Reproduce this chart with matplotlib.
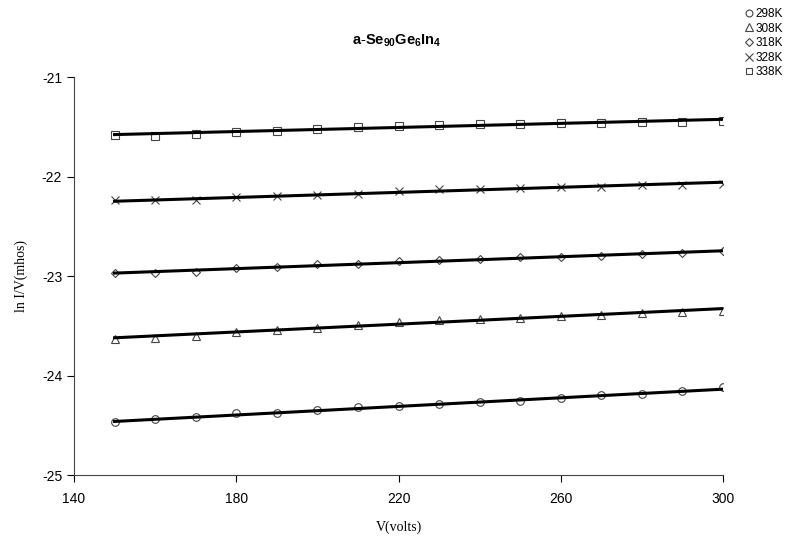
import matplotlib
matplotlib.use("Agg")
import matplotlib.pyplot as plt
import numpy as np

plt.rcParams['font.family'] = ['Liberation Sans', 'DejaVu Sans']
plt.rcParams['axes.unicode_minus'] = False
plt.rcParams['mathtext.fontset'] = 'custom'
plt.rcParams['mathtext.rm'] = 'Liberation Sans'
plt.rcParams['mathtext.bf'] = 'Liberation Sans:bold'

# bias voltage (V)
volts = [150, 160, 170, 180, 190, 200, 210, 220, 230, 240, 250, 260, 270, 280, 290, 300]

# ln I/V at each temperature
ln_298 = [-24.47, -24.44, -24.42, -24.38, -24.38, -24.35, -24.32, -24.31,
          -24.29, -24.27, -24.26, -24.23, -24.20, -24.19, -24.16, -24.12]
ln_308 = [-23.63, -23.62, -23.60, -23.56, -23.54, -23.52, -23.49, -23.46,
          -23.44, -23.43, -23.42, -23.40, -23.39, -23.37, -23.36, -23.35]
ln_318 = [-22.97, -22.97, -22.96, -22.92, -22.91, -22.88, -22.88, -22.85,
          -22.84, -22.83, -22.81, -22.81, -22.80, -22.78, -22.77, -22.75]
ln_328 = [-22.24, -22.24, -22.24, -22.21, -22.20, -22.19, -22.18, -22.15,
          -22.13, -22.12, -22.11, -22.10, -22.10, -22.08, -22.08, -22.07]
ln_338 = [-21.58, -21.59, -21.57, -21.55, -21.54, -21.52, -21.50, -21.49,
          -21.48, -21.47, -21.47, -21.46, -21.46, -21.45, -21.45, -21.44]

labels = ['298K', '308K', '318K', '328K', '338K']
series = [ln_298, ln_308, ln_318, ln_328, ln_338]
markers = ['o', '^', 'D', 'x', 's']
msizes = [5.5, 6, 4.2, 6, 5.5]

fig = plt.figure(figsize=(7.94, 5.39), dpi=100)
ax = fig.add_axes([0.0932, 0.1187, 0.8174, 0.7383])

v = np.array(volts)
handles = []
for lab, y, m, ms in zip(labels, series, markers, msizes):
    y = np.array(y)
    # linear trend line through each data set
    k, b = np.polyfit(v, y, 1)
    ax.plot(v, k * v + b, color='black', lw=2.2, zorder=3)
    if m == 'x':
        h, = ax.plot(v, y, ls='none', marker=m, ms=ms, color='#444444',
                     mew=0.8, zorder=2, label=lab)
    else:
        h, = ax.plot(v, y, ls='none', marker=m, ms=ms, mfc='none',
                     mec='#444444', mew=0.8, zorder=2, label=lab)
    handles.append(h)

ax.set_xlim(140, 300)
ax.set_ylim(-25, -21)
ax.set_xticks([140, 180, 220, 260, 300])
ax.set_yticks([-25, -24, -23, -22, -21])
ax.spines['top'].set_visible(False)
ax.spines['right'].set_visible(False)
ax.spines['left'].set_color('#444444')
ax.spines['bottom'].set_color('#444444')
ax.tick_params(direction='out', length=5, labelsize=10, colors='black')
ax.tick_params(axis='x', pad=7)

ax.set_xlabel('V(volts)', family='Liberation Serif', fontsize=10, labelpad=11)
ax.set_ylabel('ln I/V(mhos)', family='Liberation Serif', fontsize=10, labelpad=10)

fig.text(0.5, 0.925, r'$\mathbf{a\text{-}Se_{90}Ge_6In_4}$', ha='center',
         va='center', fontsize=10.5)

fig.legend(handles=handles, labels=labels, loc='upper right',
           bbox_to_anchor=(1.0, 1.005), frameon=False, fontsize=8.5,
           handlelength=0.7, handletextpad=0.25, labelspacing=0.22,
           markerscale=0.9)

fig.savefig('out.png', dpi=100)
